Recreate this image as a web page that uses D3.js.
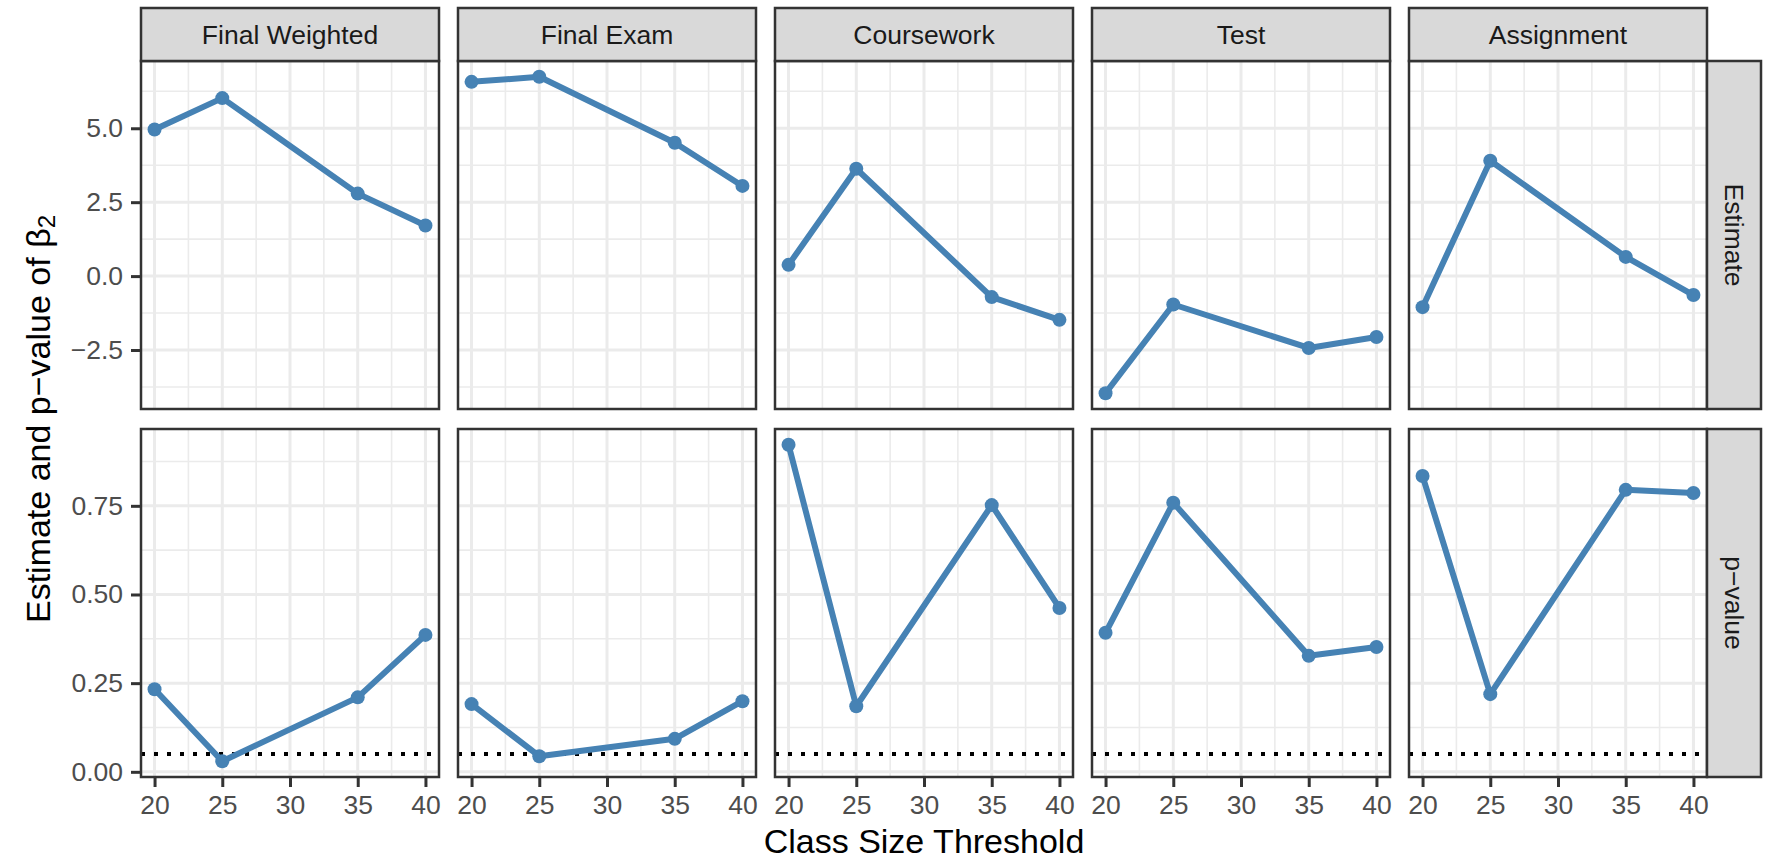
<!DOCTYPE html>
<meta charset="utf-8">

<style>

* {
	margin: 0;
	padding: 0;
}

body {
	background: #fff;
}

svg {
	display: block;
	font-family: "Liberation Sans", Arial, sans-serif;
}

.grid-major {
	stroke: #EBEBEB;
	stroke-width: 3;
}

.grid-minor {
	stroke: #EBEBEB;
	stroke-width: 1.6;
}

.tick line {
	stroke: #333;
	stroke-width: 3;
}

.tick text {
	fill: #4D4D4D;
	font-size: 26.5px;
	font-family: "Liberation Sans", Arial, sans-serif;
}

.strip {
	fill: #D9D9D9;
	stroke: #333;
	stroke-width: 2.5;
}

.strip-text {
	fill: #1A1A1A;
	font-size: 26.5px;
}

</style>

<body>

<script src="https://cdn.jsdelivr.net/npm/d3@7/dist/d3.min.js"></script>

<script>

// data
var thresholds = [20, 25, 35, 40];
var xTicks = [20, 25, 30, 35, 40];

var outcomes = ["Final Weighted", "Final Exam", "Coursework", "Test", "Assignment"];
var measures = ["Estimate", "p\u2212value"];

var estFinalWeighted = [4.96, 6.02, 2.79, 1.71];
var estFinalExam     = [6.57, 6.74, 4.51, 3.05];
var estCoursework    = [0.38, 3.63, -0.71, -1.48];
var estTest          = [-3.96, -0.96, -2.43, -2.06];
var estAssignment    = [-1.05, 3.90, 0.65, -0.64];

var pFinalWeighted = [0.233, 0.030, 0.210, 0.386];
var pFinalExam     = [0.191, 0.044, 0.093, 0.199];
var pCoursework    = [0.922, 0.185, 0.752, 0.462];
var pTest          = [0.392, 0.759, 0.327, 0.352];
var pAssignment    = [0.834, 0.219, 0.795, 0.786];

var estTicks = [-2.5, 0, 2.5, 5];
var estTickLabels = ["\u22122.5", "0.0", "2.5", "5.0"];
var pTicks = [0, 0.25, 0.5, 0.75];
var pTickLabels = ["0.00", "0.25", "0.50", "0.75"];

var pCutoff = 0.05;

var rows = [
	[estFinalWeighted, estFinalExam, estCoursework, estTest, estAssignment],
	[pFinalWeighted, pFinalExam, pCoursework, pTest, pAssignment]
];
var rowTicks = [estTicks, pTicks];
var rowTickLabels = [estTickLabels, pTickLabels];


var width = 1772,
    height = 865,
    panelLeft = 141,
    panelTop = 61,
    panelW = 298,
    panelH = 348,
    gapX = 19,
    gapY = 20,
    stripH = 53,
    stripW = 54,
    lineColor = "#4682B4";

var svg = d3.select("body").append("svg")
    .attr("width", width)
    .attr("height", height);

// ggplot style 5% expansion
function expand(ext) {
	var pad = (ext[1] - ext[0]) * 0.05;
	return [ext[0] - pad, ext[1] + pad];
}

function minorBreaks(ticks, domain) {
	var step = ticks[1] - ticks[0];
	var out = [];
	for (var v = ticks[0] - step / 2; v <= ticks[ticks.length - 1] + step; v += step) {
		if (v >= domain[0] && v <= domain[1]) out.push(v);
	}
	return out;
}

var x = d3.scaleLinear()
    .domain(expand(d3.extent(thresholds)))
    .range([0, panelW]);

var xMinor = minorBreaks(xTicks, x.domain());

var yScales = rows.map(function(series) {
	return d3.scaleLinear()
	    .domain(expand(d3.extent(d3.merge(series))))
	    .range([panelH, 0]);
});

var line = d3.line()
    .x(function(d, i) { return x(thresholds[i]); });

rows.forEach(function(series, r) {

	var y = yScales[r];
	var yMinor = minorBreaks(rowTicks[r], y.domain());
	var py = panelTop + r * (panelH + gapY);

	series.forEach(function(values, c) {

		var px = panelLeft + c * (panelW + gapX);

		var g = svg.append("g")
		    .attr("transform", "translate(" + px + "," + py + ")");

		g.append("rect")
		    .attr("width", panelW)
		    .attr("height", panelH)
		    .attr("fill", "#fff");

		// grid
		g.selectAll(".gx-minor").data(xMinor).enter().append("line")
		    .attr("class", "grid-minor")
		    .attr("x1", x).attr("x2", x)
		    .attr("y1", 0).attr("y2", panelH);

		g.selectAll(".gy-minor").data(yMinor).enter().append("line")
		    .attr("class", "grid-minor")
		    .attr("x1", 0).attr("x2", panelW)
		    .attr("y1", y).attr("y2", y);

		g.selectAll(".gx-major").data(xTicks).enter().append("line")
		    .attr("class", "grid-major")
		    .attr("x1", x).attr("x2", x)
		    .attr("y1", 0).attr("y2", panelH);

		g.selectAll(".gy-major").data(rowTicks[r]).enter().append("line")
		    .attr("class", "grid-major")
		    .attr("x1", 0).attr("x2", panelW)
		    .attr("y1", y).attr("y2", y);

		// significance line on the p-value row
		if (r == 1) {
			g.append("line")
			    .attr("x1", 0).attr("x2", panelW)
			    .attr("y1", y(pCutoff)).attr("y2", y(pCutoff))
			    .attr("stroke", "#000")
			    .attr("stroke-width", 4)
			    .attr("stroke-dasharray", "4,9");
		}

		g.append("path")
		    .datum(values)
		    .attr("d", line.y(function(d) { return y(d); }))
		    .attr("fill", "none")
		    .attr("stroke", lineColor)
		    .attr("stroke-width", 6)
		    .attr("stroke-linejoin", "round")
		    .attr("stroke-linecap", "butt");

		g.selectAll("circle").data(values).enter().append("circle")
		    .attr("cx", function(d, i) { return x(thresholds[i]); })
		    .attr("cy", y)
		    .attr("r", 7)
		    .attr("fill", lineColor);

		g.append("rect")
		    .attr("width", panelW)
		    .attr("height", panelH)
		    .attr("fill", "none")
		    .attr("stroke", "#333")
		    .attr("stroke-width", 2.5);

		// axes on outer panels only
		if (c == 0) {
			var ya = g.append("g")
			    .call(d3.axisLeft(y)
			        .tickValues(rowTicks[r])
			        .tickFormat(function(d, i) { return rowTickLabels[r][i]; })
			        .tickSize(10)
			        .tickPadding(8));
			ya.select(".domain").remove();
			ya.attr("font-size", null).attr("font-family", null);
		}

		if (r == rows.length - 1) {
			var xa = g.append("g")
			    .attr("transform", "translate(0," + panelH + ")")
			    .call(d3.axisBottom(x)
			        .tickValues(xTicks)
			        .tickSize(10)
			        .tickPadding(8));
			xa.select(".domain").remove();
			xa.attr("font-size", null).attr("font-family", null);
		}

		// column strips
		if (r == 0) {
			svg.append("rect")
			    .attr("class", "strip")
			    .attr("x", px)
			    .attr("y", panelTop - stripH)
			    .attr("width", panelW)
			    .attr("height", stripH);

			svg.append("text")
			    .attr("class", "strip-text")
			    .attr("x", px + panelW / 2)
			    .attr("y", panelTop - stripH / 2)
			    .attr("text-anchor", "middle")
			    .attr("dominant-baseline", "central")
			    .text(outcomes[c]);
		}

		// row strips
		if (c == series.length - 1) {
			var sx = px + panelW;
			svg.append("rect")
			    .attr("class", "strip")
			    .attr("x", sx)
			    .attr("y", py)
			    .attr("width", stripW)
			    .attr("height", panelH);

			svg.append("text")
			    .attr("class", "strip-text")
			    .attr("transform", "translate(" + (sx + stripW / 2) + "," + (py + panelH / 2) + ") rotate(90)")
			    .attr("text-anchor", "middle")
			    .attr("dominant-baseline", "central")
			    .text(measures[r]);
		}
	});
});

// axis titles
var plotRight = panelLeft + outcomes.length * panelW + (outcomes.length - 1) * gapX;
var plotBottom = panelTop + rows.length * panelH + gapY;

svg.append("text")
    .attr("x", (panelLeft + plotRight) / 2)
    .attr("y", 853)
    .attr("text-anchor", "middle")
    .attr("font-size", 34)
    .attr("fill", "#000")
    .text("Class Size Threshold");

var yt = svg.append("text")
    .attr("transform", "translate(38," + ((panelTop + plotBottom) / 2) + ") rotate(-90)")
    .attr("text-anchor", "middle")
    .attr("dominant-baseline", "central")
    .attr("font-size", 34)
    .attr("fill", "#000");

yt.append("tspan").text("Estimate and p\u2212value of \u03B2");
yt.append("tspan").attr("font-size", 24).attr("dy", 8).text("2");

</script>
